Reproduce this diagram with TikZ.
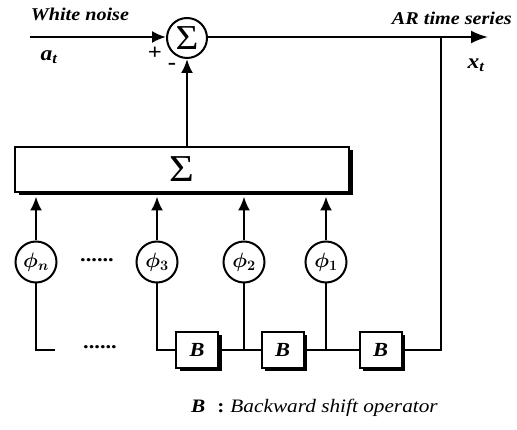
\documentclass[tikz,border=0pt]{standalone}
\usepackage{fontspec}
\usepackage{amsmath,bm}
\usetikzlibrary{arrows.meta,calc,shadows}
\newfontfamily\lab[FakeStretch=1.12]{Liberation Serif}
\begin{document}
\begin{tikzpicture}[x=1pt,y=-1pt,
  line/.style={line width=2.2pt},
  arr/.style={line width=2.2pt,-{Latex[length=14pt,width=12pt]}},
  arrout/.style={line width=2.2pt,-{Latex[length=17pt,width=13pt]}},
  shad/.style={drop shadow={shadow xshift=3.5pt,shadow yshift=-3.5pt,fill=black,opacity=1}},
  sumc/.style={circle,draw,line width=2pt,minimum size=40pt,inner sep=0pt,fill=white,
    font=\lab\fontsize{35}{35}\selectfont},
  coef/.style={circle,draw,line width=2pt,minimum size=41pt,inner sep=0pt,fill=white,
    font=\fontsize{21}{21}\selectfont},
  bbox/.style={draw,line width=2pt,fill=white,minimum width=42pt,minimum height=36pt,
    inner sep=0pt,shad,font=\lab\bfseries\itshape\fontsize{20}{20}\selectfont},
  lbl/.style={font=\lab\bfseries\itshape\fontsize{18}{18}\selectfont,inner sep=0pt},
  sym/.style={font=\lab\bfseries\itshape\fontsize{21}{21}\selectfont,inner sep=0pt},
  sign/.style={font=\lab\bfseries\fontsize{22}{22}\selectfont,inner sep=0pt},
  dots/.style={font=\lab\bfseries\fontsize{20}{20}\selectfont,inner sep=0pt}]
\useasboundingbox (0,0) rectangle (517,430);

% summing junction and big adder
\node[sumc] (S) at (187,38) {Σ};
\node[draw,line width=2pt,fill=white,minimum width=334pt,minimum height=45pt,inner sep=0pt,
  shad,font=\lab\fontsize{38}{38}\selectfont] (A) at (182,169.5) {Σ};

% coefficient circles
\node[coef] (pn) at (36,262) {$\bm{\phi}_{\bm{n}}$};
\node[coef] (p3) at (157,262) {$\bm{\phi}_{\bm{3}}$};
\node[coef] (p2) at (244,262) {$\bm{\phi}_{\bm{2}}$};
\node[coef] (p1) at (326,262) {$\bm{\phi}_{\bm{1}}$};

% backward shift boxes
\node[bbox] (B1) at (197,350) {B};
\node[bbox] (B2) at (282.5,350) {B};
\node[bbox] (B3) at (380.5,350) {B};

% labels
\node[lbl,anchor=base] (wn) at (80,21) {White noise};
\node[lbl,anchor=base east] (ar) at (512,25) {AR time series};
\node[sym] (at) at (49,57) {a\textsubscript{t}};
\node[sym] (xt) at (476,65) {x\textsubscript{t}};
\node[sign] (plus) at (155,53) {+};
\node[sign] (minus) at (172,66) {-};
\node[dots] (d1) at (97,260) {......};
\node[dots] (d2) at (100,347) {......};
\node[anchor=base west,inner sep=0pt,font=\lab\fontsize{19}{19}\selectfont] (cap) at (191,413)
  {\textbf{\textit{B}}\hspace{12pt}\textbf{:}\hspace{6pt}\textit{Backward shift operator}};

% connectors
\coordinate (in) at (30,37);
\coordinate (out) at (488,37);
\coordinate (tap) at (441,37);
\coordinate (pnend) at (55,350);
\draw[arr] (in) -- (in -| S.west);
\draw[arrout] (S.east |- out) -- (out);
\draw[line] (tap) |- (B3.east);
\draw[arr] (A.north -| S) -- (S.south);
\foreach \p in {pn,p3,p2,p1}{
  \draw[arr] (\p.north) -- ($(\p.north |- A.south)+(0,3.5)$);
}
\draw[line] (pn.south) |- (pnend);
\draw[line] (p3.south) |- (B1.west);
\draw[line] (B1.east) -- (B2.west);
\draw[line] (p2.south) -- (p2.south |- B1.east);
\draw[line] (B2.east) -- (B3.west);
\draw[line] (p1.south) -- (p1.south |- B2.east);
\end{tikzpicture}
\end{document}
